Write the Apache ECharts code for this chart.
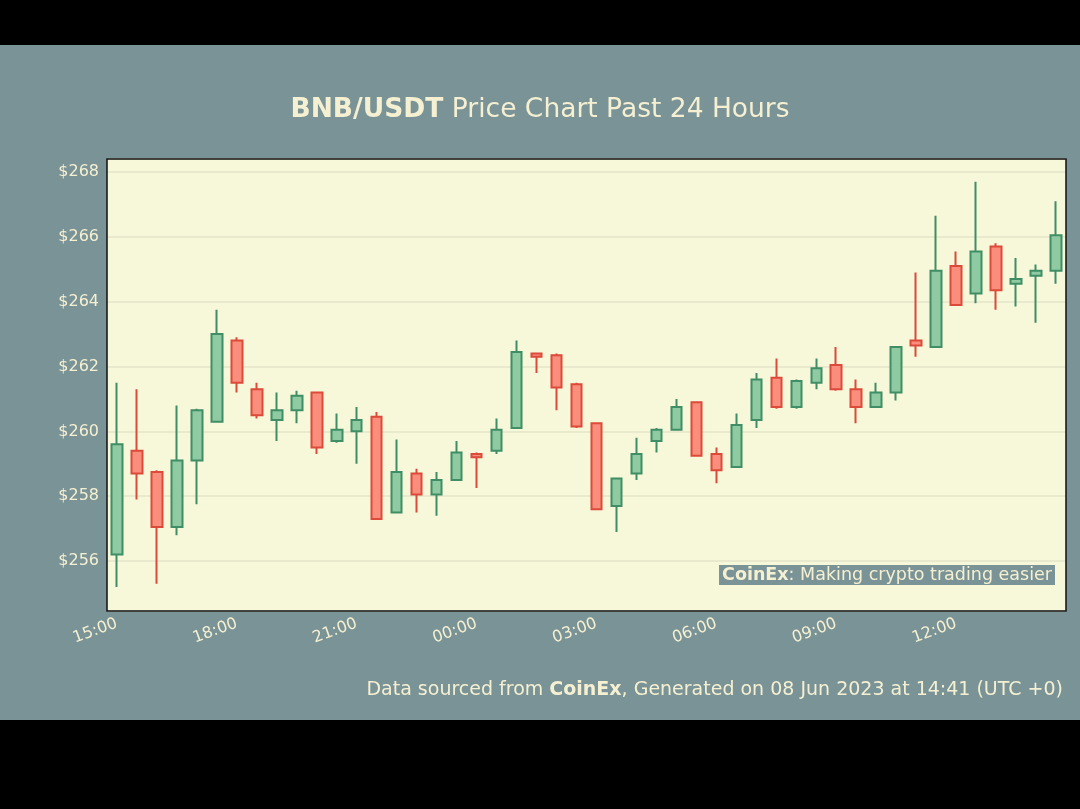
<!DOCTYPE html>
<html>
<head>
<meta charset="utf-8">
<script src="https://cdn.jsdelivr.net/npm/echarts@6/dist/echarts.min.js"></script>
<style>
  html, body { margin: 0; padding: 0; background: #000; }
  #chart { position: absolute; left: 0; top: 45px; width: 1080px; height: 675px; background: #7a9396; }
</style>
</head>
<body>
<div id="chart"></div>
<script>
// 30 minute candles, 15:00 -> 14:30
var times = [];
for (var i = 0; i < 48; i++) {
    var h = (15 + Math.floor(i / 2)) % 24;
    times.push((h < 10 ? '0' : '') + h + ':' + (i % 2 ? '30' : '00'));
}

// [open, close, low, high]
var opens  = [256.2,259.4,258.75,257.05,259.1,260.3,262.8,261.3,260.35,260.65,261.2,259.7,260.0,260.45,257.5,258.7,258.05,258.5,259.3,259.4,260.1,262.4,262.35,261.45,260.25,257.7,258.7,259.7,260.05,260.9,259.3,258.9,260.35,261.65,260.75,261.5,262.05,261.3,260.75,261.2,262.8,262.6,265.1,264.25,265.7,264.55,264.8,264.95];
var closes = [259.6,258.7,257.05,259.1,260.65,263.0,261.5,260.5,260.65,261.1,259.5,260.05,260.35,257.3,258.75,258.05,258.5,259.35,259.2,260.05,262.45,262.3,261.35,260.15,257.6,258.55,259.3,260.05,260.75,259.25,258.8,260.2,261.6,260.75,261.55,261.95,261.3,260.75,261.2,262.6,262.65,264.95,263.9,265.55,264.35,264.7,264.95,266.05];
var lows   = [255.2,257.9,255.3,256.8,257.75,260.3,261.2,260.4,259.7,260.25,259.3,259.65,259.0,257.3,257.5,257.5,257.4,258.5,258.25,259.3,260.1,261.8,260.65,260.1,257.6,256.9,258.5,259.35,260.05,259.25,258.4,258.9,260.1,260.7,260.7,261.3,261.25,260.25,260.75,260.95,262.3,262.6,263.9,263.95,263.75,263.85,263.35,264.55];
var highs  = [261.5,261.3,258.8,260.8,260.7,263.75,262.9,261.5,261.2,261.25,261.2,260.55,260.75,260.6,259.75,258.85,258.75,259.7,259.35,260.4,262.8,262.4,262.4,261.5,260.25,258.55,259.8,260.1,261.0,260.9,259.5,260.55,261.8,262.25,261.6,262.25,262.6,261.6,261.5,262.6,264.9,266.65,265.55,267.7,265.8,265.35,265.15,267.1];

var candles = opens.map(function (o, i) { return [o, closes[i], lows[i], highs[i]]; });

var txt = '#f5f0d2';
var option = {
    animation: false,
    title: {
        text: '{b|BNB/USDT} Price Chart Past 24 Hours',
        left: 'center',
        top: 47,
        textStyle: {
            color: txt, fontSize: 26.5, fontWeight: 'normal', fontFamily: 'DejaVu Sans',
            rich: { b: { color: txt, fontSize: 26.5, fontWeight: 'bold', fontFamily: 'DejaVu Sans' } }
        }
    },
    grid: { left: 107, right: 14, top: 114, bottom: 109, show: true, backgroundColor: '#f7f7d9', borderWidth: 0 },
    xAxis: {
        type: 'category',
        data: times,
        axisLine: { show: false },
        axisTick: { show: false },
        axisLabel: {
            color: txt, fontSize: 16, fontFamily: 'DejaVu Sans', rotate: 20, margin: 12,
            interval: function (idx) { return idx % 6 === 0; }
        },
        splitLine: { show: false }
    },
    yAxis: {
        type: 'value',
        min: 254.46,
        max: 268.4,
        splitNumber: 7,
        axisLine: { show: false },
        axisTick: { show: false },
        axisLabel: {
            color: txt, fontSize: 16, fontFamily: 'DejaVu Sans', margin: 8,
            showMinLabel: false, showMaxLabel: false,
            formatter: function (v) { return '$' + v; }
        },
        splitLine: { lineStyle: { color: '#e4e4c8', width: 1.5 } }
    },
    series: [{
        type: 'candlestick',
        data: candles,
        barWidth: 11,
        itemStyle: {
            color: '#8fcaa2', borderColor: '#3f8e65',
            color0: '#fa8e7c', borderColor0: '#dc4a3a',
            borderWidth: 2
        }
    }],
    graphic: [
        {
            type: 'rect', z: 100,
            shape: { x: 107, y: 114, width: 959, height: 452 },
            style: { fill: 'none', stroke: '#111', lineWidth: 1.5 }
        },
        {
            type: 'text', right: 25, top: 520, z: 100,
            style: {
                text: '{b|CoinEx}: Making crypto trading easier',
                fill: txt, fontSize: 17.5, fontFamily: 'DejaVu Sans',
                backgroundColor: '#7a9396', padding: [1, 3],
                rich: { b: { fill: txt, fontSize: 17.5, fontWeight: 'bold', fontFamily: 'DejaVu Sans' } }
            }
        },
        {
            type: 'text', right: 17, top: 636,
            style: {
                text: 'Data sourced from {b|CoinEx}, Generated on 08 Jun 2023 at 14:41 (UTC +0)',
                fill: txt, fontSize: 19, fontFamily: 'DejaVu Sans',
                rich: { b: { fill: txt, fontSize: 19, fontWeight: 'bold', fontFamily: 'DejaVu Sans' } }
            }
        }
    ]
};

var chart = echarts.init(document.getElementById('chart'));
chart.setOption(option);
</script>
</body>
</html>
